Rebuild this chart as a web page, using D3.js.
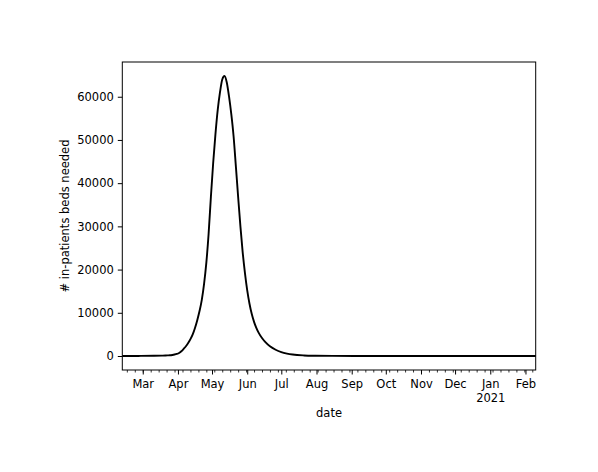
<!DOCTYPE html>
<html><head><meta charset="utf-8">
<script src="https://cdn.jsdelivr.net/npm/d3@7"></script>
<style>
body{margin:0;background:#fff}
svg{display:block}
text{font-family:"DejaVu Sans",sans-serif;font-size:11.5px;fill:#000}
</style>
</head><body>
<svg id="c" width="598" height="472"></svg>
<script>
// ---- data ----
const dates = [
 "2020-02-12","2020-02-26","2020-03-11","2020-03-18","2020-03-21","2020-03-23",
 "2020-03-25","2020-03-27","2020-03-29","2020-03-31","2020-04-02","2020-04-04",
 "2020-04-06","2020-04-08","2020-04-10","2020-04-12","2020-04-14","2020-04-16",
 "2020-04-18","2020-04-20","2020-04-22","2020-04-24","2020-04-26","2020-04-28",
 "2020-04-30","2020-05-02","2020-05-04","2020-05-06","2020-05-08","2020-05-10",
 "2020-05-12","2020-05-14","2020-05-16","2020-05-18","2020-05-20","2020-05-22",
 "2020-05-24","2020-05-26","2020-05-28","2020-05-30","2020-06-01","2020-06-03",
 "2020-06-05","2020-06-07","2020-06-09","2020-06-11","2020-06-14","2020-06-17",
 "2020-06-21","2020-06-26","2020-07-01","2020-07-06","2020-07-11","2020-07-21",
 "2020-07-31","2020-08-15","2020-09-04","2020-10-09","2020-11-18","2021-01-07",
 "2021-02-10"
];
const beds = [
 5,15,45,85,110,135,
 170,240,340,480,700,1100,
 1650,2250,3000,3900,5000,6500,
 8300,10400,13000,16700,21600,28300,
 36800,44600,51300,56900,61000,64000,
 64800,63300,60000,55900,50800,43900,
 36800,30000,24000,19200,15200,12100,
 9700,7900,6500,5400,4150,3200,
 2250,1450,900,560,340,130,
 55,18,5,1,0,0,
 0
];
const yTicks = [0,10000,20000,30000,40000,50000,60000];
const xLabel = "date";
const yLabel = "# in-patients beds needed";

// ---- layout ----
const W = 598, H = 472;
const L = 122.3, R = 535.7, T = 62, B = 370;

const parse = d3.utcParse("%Y-%m-%d");
const data = dates.map((d,i)=>({date:parse(d), v:beds[i]}));

const x = d3.scaleUtc().domain(d3.extent(data, d=>d.date)).range([L, R]);
const yMax = d3.max(beds), yMin = 0;
const pad = (yMax - yMin) * 0.05;
const y = d3.scaleLinear().domain([yMin - pad, yMax + pad]).range([B, T]);

const svg = d3.select("#c");
svg.append("rect").attr("width",W).attr("height",H).attr("fill","#fff");

// curve
const line = d3.line().x(d=>x(d.date)).y(d=>y(d.v)).curve(d3.curveMonotoneX);
svg.append("path").datum(data).attr("d", line)
  .attr("fill","none").attr("stroke","#000").attr("stroke-width",1.9)
  .attr("stroke-linejoin","round");

// y axis
const gy = svg.append("g").attr("transform",`translate(${L},0)`)
  .call(d3.axisLeft(y).tickValues(yTicks).tickSize(4.5).tickPadding(4).tickFormat(d3.format("d")));
gy.select(".domain").remove();
gy.selectAll("line").attr("stroke","#000").attr("stroke-width",1);
gy.attr("font-size",null).attr("font-family",null);

// x minor ticks (weekly, Sundays)
const minor = d3.utcSunday.range(x.domain()[0], d3.utcDay.offset(x.domain()[1],1));
const gxm = svg.append("g").attr("transform",`translate(0,${B})`)
  .call(d3.axisBottom(x).tickValues(minor).tickSize(2.5).tickFormat(""));
gxm.select(".domain").remove();
gxm.selectAll("line").attr("stroke","#000").attr("stroke-width",0.8);

// x major ticks (months)
const months = d3.utcMonth.range(d3.utcMonth.ceil(x.domain()[0]), d3.utcDay.offset(x.domain()[1],1));
const gx = svg.append("g").attr("transform",`translate(0,${B})`)
  .call(d3.axisBottom(x).tickValues(months).tickSize(4.5).tickFormat(d3.utcFormat("%b")));
gx.select(".domain").remove();
gx.attr("font-size",null).attr("font-family",null);
gx.selectAll("line").attr("stroke","#000").attr("stroke-width",1);
gx.selectAll("text").attr("y",18).attr("dy",0).each(function(d){
  if (d.getUTCMonth() === 0) {
    const t = d3.select(this);
    t.text(null);
    t.append("tspan").attr("x",0).attr("dy",0).text(d3.utcFormat("%b")(d));
    t.append("tspan").attr("x",0).attr("dy",13.5).text(d3.utcFormat("%Y")(d));
  }
});

// spines
svg.append("rect").attr("x",L).attr("y",T).attr("width",R-L).attr("height",B-T)
  .attr("fill","none").attr("stroke","#000").attr("stroke-width",1);

// axis labels
svg.append("text").attr("x",(L+R)/2).attr("y",417).attr("text-anchor","middle").text(xLabel);
svg.append("text").attr("transform",`translate(69,${(T+B)/2}) rotate(-90)`)
  .attr("text-anchor","middle").text(yLabel);
</script>
</body></html>
